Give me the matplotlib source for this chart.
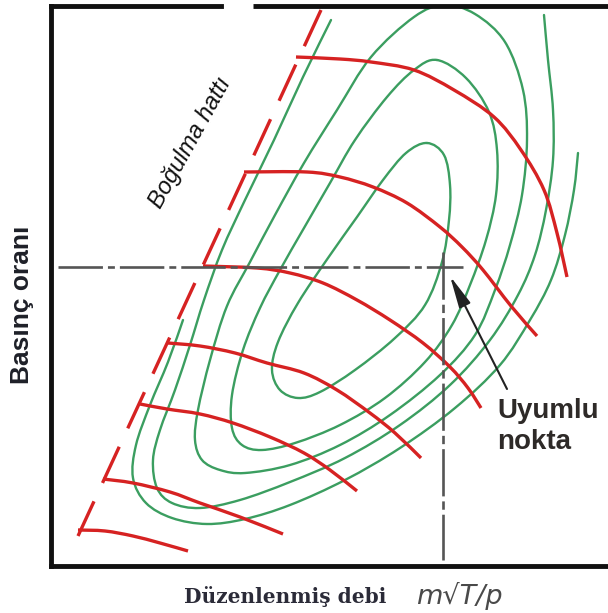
import numpy as np
import matplotlib.pyplot as plt
from matplotlib.path import Path
from matplotlib.patches import PathPatch

plt.rcParams['lines.scale_dashes'] = False

# map units: x = corrected flow, y = pressure ratio (drawn top-down)
surge_x = [321, 78]
surge_y = [10, 536]

# constant speed lines, each starting on the surge line
speed_1 = [(78, 530), (105, 531), (133, 536), (160, 543), (188, 551)]
speed_2 = [(103, 479), (133, 483), (170, 492), (200, 503), (240, 517), (283, 534)]
speed_3 = [(140, 404), (167, 409), (200, 414), (233, 423), (270, 437), (304, 453),
           (330, 470), (357, 491)]
speed_4 = [(168, 343), (200, 346), (235, 353), (267, 363), (304, 373), (337, 390),
           (370, 413), (395, 433), (421, 458)]
speed_5 = [(203, 266), (257, 268), (290, 273), (323, 283), (357, 300), (390, 320),
           (423, 343), (450, 367), (468, 388), (481, 408)]
speed_6 = [(244, 172), (307, 172), (340, 177), (373, 187), (407, 203), (440, 227),
           (462, 247), (483, 270), (511, 306), (537, 336)]
speed_7 = [(296, 57), (340, 59), (371, 62), (414, 70), (454, 90), (494, 117),
           (521, 150), (544, 190), (557, 233), (567, 277)]
speed_lines = [speed_1, speed_2, speed_3, speed_4, speed_5, speed_6, speed_7]

# efficiency islands, innermost first
island_1 = [(427, 143), (444, 155), (450, 185), (449, 220), (442, 262), (425, 305),
            (395, 338), (355, 370), (320, 392), (298, 398), (280, 390), (272, 370),
            (278, 342), (298, 303), (328, 258), (357, 217), (383, 180), (406, 153),
            (427, 143)]
island_2 = [(437, 60), (414, 70), (387, 97), (355, 140), (330, 183), (304, 228),
            (280, 270), (260, 308), (243, 350), (232, 395), (232, 428), (242, 445),
            (262, 450), (295, 443), (340, 425), (385, 398), (425, 362), (452, 325),
            (470, 285), (486, 240), (496, 195), (497, 150), (489, 112), (466, 78),
            (437, 60)]
island_3 = [(444, 5), (414, 17), (371, 57), (337, 110), (304, 163), (275, 215),
            (250, 262), (227, 306), (210, 360), (198, 410), (195, 440), (202, 460),
            (220, 470), (245, 473), (290, 465), (340, 445), (390, 415), (440, 375),
            (475, 335), (495, 290), (510, 245), (522, 195), (527, 140), (523, 90),
            (505, 42), (475, 14), (444, 5)]
island_4 = [(331, 20), (303, 77), (274, 140), (245, 200), (222, 250), (204, 300),
            (190, 345), (175, 390), (160, 430), (153, 460), (157, 488), (172, 503),
            (200, 508), (240, 500), (290, 482), (345, 458), (400, 425), (450, 385),
            (490, 340), (518, 295), (535, 255), (546, 210), (553, 160), (553, 110),
            (548, 60), (544, 15)]
island_5 = [(183, 320), (168, 362), (150, 405), (136, 445), (133, 478), (146, 503),
            (172, 518), (207, 524), (245, 519), (290, 505), (345, 480), (400, 448),
            (455, 408), (500, 365), (530, 320), (551, 280), (565, 235), (574, 190),
            (578, 153)]
islands = [island_1, island_2, island_3, island_4, island_5]

# operating point guide lines and annotation
op_x = 443
op_y = 267
guide_h = [58, 463]
guide_v = [252, 560]
arrow_tip = (450, 276)
arrow_tail = (507, 389)


def smooth_path(pts):
    # Catmull-Rom through the points, as cubic bezier segments
    P = np.asarray(pts, float)
    closed = np.allclose(P[0], P[-1])
    if closed:
        ext = np.vstack([P[-2], P, P[1]])
    else:
        ext = np.vstack([P[0], P, P[-1]])
    verts = [P[0]]
    codes = [Path.MOVETO]
    for i in range(1, len(ext) - 2):
        p0, p1, p2, p3 = ext[i - 1], ext[i], ext[i + 1], ext[i + 2]
        verts += [p1 + (p2 - p0) / 6, p2 - (p3 - p1) / 6, p2]
        codes += [Path.CURVE4] * 3
    return Path(verts, codes)


fig = plt.figure(figsize=(6.08, 6.13), dpi=100)
ax = fig.add_axes([50.5 / 608, 47 / 613, 1 - 50.5 / 608, 560.5 / 613])
ax.set_xlim(50.5, 608)
ax.set_ylim(566, 5.5)
ax.set_xticks([])
ax.set_yticks([])

green = '#3b9e60'
red = '#d62222'
guide = '#555555'

for isl in islands:
    ax.add_patch(PathPatch(smooth_path(isl), fill=False, edgecolor=green, lw=1.7,
                           capstyle='round', joinstyle='round'))

for sl in speed_lines:
    ax.add_patch(PathPatch(smooth_path(sl), fill=False, edgecolor=red, lw=2.4,
                           capstyle='butt', joinstyle='round'))

ax.plot(surge_x, surge_y, color=red, lw=2.4, dashes=(28.7, 14.6),
        dash_capstyle='butt')

ax.plot(guide_h, [op_y, op_y], color=guide, lw=1.9, dashes=(32, 3.6, 5, 3.6))
ax.plot([op_x, op_x], guide_v, color=guide, lw=1.9, dashes=(34, 3.6, 6, 3.6))

ax.annotate('', xy=arrow_tip, xytext=arrow_tail,
            arrowprops=dict(arrowstyle='-|>,head_length=1.3,head_width=0.25',
                            mutation_scale=15, color='#222222', lw=1.5,
                            shrinkA=0, shrinkB=0))

# frame: open on the right, small break in the top edge
for side in ['top', 'right']:
    ax.spines[side].set_visible(False)
for side in ['left', 'bottom']:
    ax.spines[side].set_linewidth(3.5)
    ax.spines[side].set_color('#111111')
ax.plot([50.5, 221], [5.5, 5.5], color='#111111', lw=3.5, clip_on=False,
        solid_capstyle='projecting')
ax.plot([253, 608], [5.5, 5.5], color='#111111', lw=3.5, clip_on=False,
        solid_capstyle='butt')

ax.text(190, 143, 'Boğulma hattı', rotation=61, rotation_mode='anchor',
        ha='center', va='center', fontsize=17, fontstyle='italic',
        family='Liberation Sans', color='#111111')
ax.text(497, 398, 'Uyumlu\nnokta', ha='left', va='top', fontsize=20,
        fontweight='bold', family='Liberation Sans', color='#2e2a28',
        linespacing=1.25)
ax.text(22, 305, 'Basınç oranı', rotation=90, ha='center', va='center',
        fontsize=19, fontweight='bold', family='Liberation Sans', color='#1e2028')
ax.text(285, 597, 'Düzenlenmiş debi', ha='center', va='center', fontsize=14.5,
        fontweight='bold', family='DejaVu Serif', color='#2b2b38')
ax.text(459, 596, 'm√T/p', ha='center', va='center', fontsize=19.5,
        fontstyle='italic', family='DejaVu Sans', color='#4a4a4a')

fig.savefig('out.png', dpi=100, facecolor='white')
